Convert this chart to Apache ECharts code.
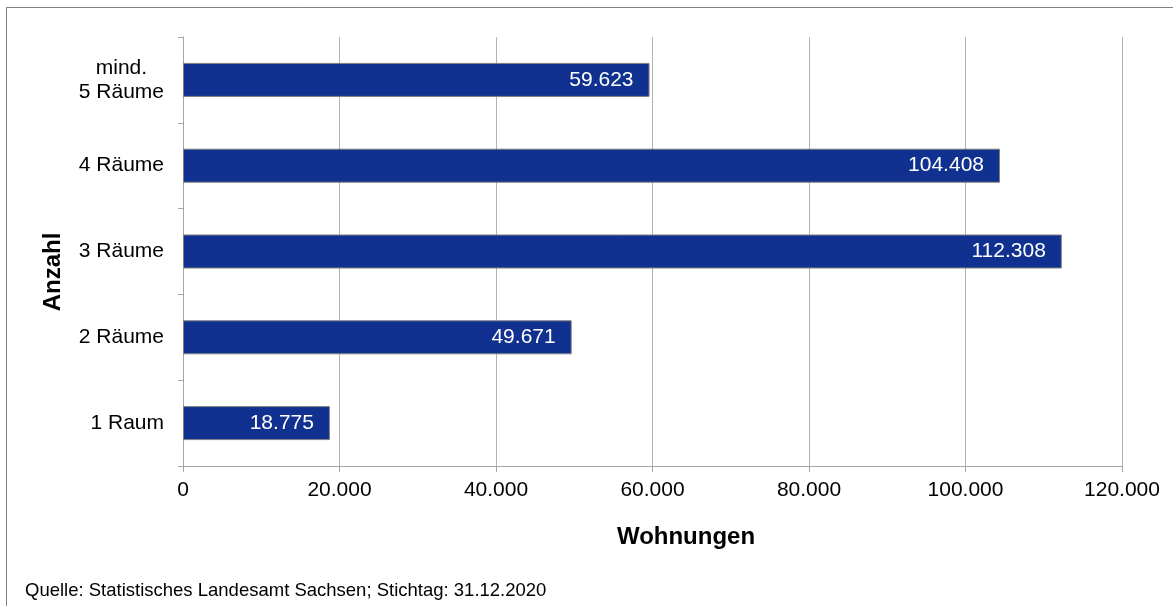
<!DOCTYPE html>
<html>
<head>
<meta charset="utf-8">
<script src="https://cdn.jsdelivr.net/npm/echarts@6/dist/echarts.min.js"></script>
<style>
  html, body { margin: 0; padding: 0; background: #fff; }
  #chart { width: 1173px; height: 606px; }
</style>
</head>
<body>
<div id="chart"></div>
<script>
// Wohnungen nach Anzahl der Räume (Stichtag 31.12.2020)
const categories = ['1 Raum', '2 Räume', '3 Räume', '4 Räume', 'mind.\n5 Räume'];
const wohnungen = [18775, 49671, 112308, 104408, 59623];
const xTicks = { min: 0, max: 120000, step: 20000 };

const FONT = '"Liberation Sans", Arial, sans-serif';

// German thousands separator
function fmt(v) {
  return String(Math.round(v)).replace(/\B(?=(\d{3})+(?!\d))/g, '.');
}

// Multi-line category names: lines centred on each other, block right-aligned
function catLabel(v) {
  return v.split('\n').map(s => '{c|' + s + '}').join('\n');
}

const chart = echarts.init(document.getElementById('chart'), null, { renderer: 'canvas' });

chart.setOption({
  animation: false,
  backgroundColor: '#ffffff',
  textStyle: { fontFamily: FONT },
  grid: { left: 183, right: 51, top: 37, bottom: 140, containLabel: false },
  xAxis: {
    type: 'value',
    min: xTicks.min,
    max: xTicks.max,
    interval: xTicks.step,
    axisLine: { show: true, lineStyle: { color: '#a6a6a6', width: 1 } },
    axisTick: { show: true, length: 6, lineStyle: { color: '#a6a6a6' } },
    axisLabel: { color: '#000', fontSize: 21, fontFamily: FONT, margin: 14, formatter: fmt },
    splitLine: { show: true, lineStyle: { color: '#b3b3b3', width: 1 } }
  },
  yAxis: {
    type: 'category',
    data: categories,
    axisLine: { show: true, lineStyle: { color: '#a6a6a6', width: 1 } },
    axisTick: { show: true, length: 5, lineStyle: { color: '#a6a6a6' } },
    axisLabel: {
      color: '#000', fontSize: 21, fontFamily: FONT, margin: 19, lineHeight: 24, align: 'right',
      formatter: catLabel,
      rich: { c: { color: '#000', fontSize: 21, fontFamily: FONT, lineHeight: 24, align: 'center' } }
    },
    splitLine: { show: false }
  },
  series: [{
    type: 'bar',
    data: wohnungen,
    barWidth: 34,
    itemStyle: { color: '#10318f', borderColor: '#7f7f7f', borderWidth: 1 },
    label: {
      show: true,
      position: 'insideRight',
      distance: 16,
      color: '#ffffff',
      fontSize: 21,
      fontFamily: FONT,
      formatter: p => fmt(p.value)
    }
  }],
  graphic: [
    {
      type: 'rect',
      silent: true,
      shape: { x: 6.5, y: 7.5, width: 1300, height: 700 },
      style: { fill: 'none', stroke: '#808080', lineWidth: 1 }
    },
    {
      type: 'text',
      x: 53, y: 272,
      rotation: Math.PI / 2,
      style: {
        text: 'Anzahl', fill: '#000', font: 'bold 24px ' + FONT,
        textAlign: 'center', textVerticalAlign: 'middle'
      }
    },
    {
      type: 'text',
      x: 686, y: 537,
      style: {
        text: 'Wohnungen', fill: '#000', font: 'bold 24px ' + FONT,
        textAlign: 'center', textVerticalAlign: 'middle'
      }
    },
    {
      type: 'text',
      x: 25, y: 591,
      style: {
        text: 'Quelle: Statistisches Landesamt Sachsen; Stichtag: 31.12.2020',
        fill: '#000', font: '18.5px ' + FONT,
        textAlign: 'left', textVerticalAlign: 'middle'
      }
    }
  ]
});
</script>
</body>
</html>
